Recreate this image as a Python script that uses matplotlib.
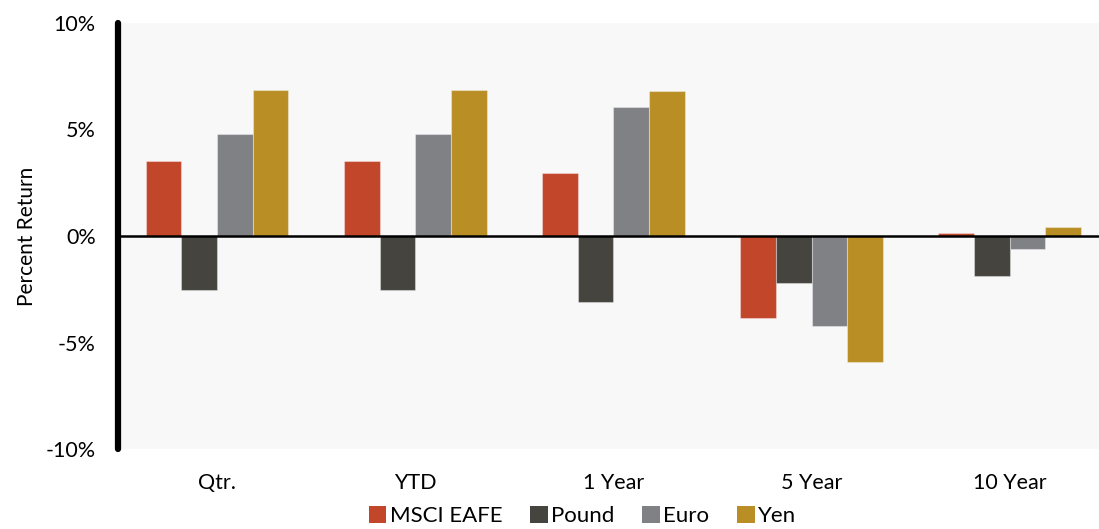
import numpy as np
import matplotlib.pyplot as plt
from matplotlib.patches import Patch

plt.rcParams['font.family'] = ['Lato', 'DejaVu Sans']

# data
periods = ['Qtr.', 'YTD', '1 Year', '5 Year', '10 Year']
msci_eafe = [3.5, 3.5, 2.95, -3.85, 0.14]
pound = [-2.55, -2.55, -3.1, -2.2, -1.9]
euro = [4.8, 4.8, 6.05, -4.22, -0.6]
yen = [6.85, 6.85, 6.8, -5.9, 0.4]
series_names = ['MSCI EAFE', 'Pound', 'Euro', 'Yen']
colors = ['#C1462A', '#45443F', '#808184', '#B88E25']
yticks = [-10, -5, 0, 5, 10]
ytick_labels = ['-10%', '-5%', '0%', '5%', '10%']

fig = plt.figure(figsize=(10.99, 5.29), dpi=100)
ax = fig.add_axes([0.1074, 0.151, 0.8926, 0.806])
ax.set_facecolor('#F8F8F8')

x = np.arange(len(periods))
width = 0.18
series = [msci_eafe, pound, euro, yen]
for i, (vals, c) in enumerate(zip(series, colors)):
    offset = (i - 1.5) * width
    ax.bar(x + offset, vals, width, color=c, edgecolor=(1, 1, 1, 0.35),
           linewidth=0.8, zorder=2)

ax.axhline(0, color='black', linewidth=1.8, zorder=3)

ax.set_xlim(-0.5, 4.45)
ax.set_ylim(-10, 10)
ax.set_yticks(yticks)
ax.set_yticklabels(ytick_labels)
ax.set_xticks(x)
ax.set_xticklabels(periods)
ax.tick_params(axis='both', length=0, labelsize=15.5)
ax.tick_params(axis='x', pad=17)
ax.tick_params(axis='y', pad=16)
ax.set_ylabel('Percent Return', fontsize=15, labelpad=6)

for s in ['top', 'right', 'bottom']:
    ax.spines[s].set_visible(False)
ax.spines['left'].set_linewidth(4.5)
ax.spines['left'].set_capstyle('round')
ax.spines['left'].set_zorder(4)

handles = [Patch(facecolor=c, edgecolor='none') for c in colors]
fig.legend(handles, series_names, loc='lower center', ncol=4, frameon=False,
           fontsize=16, handlelength=0.8, handleheight=0.8, handletextpad=0.15,
           columnspacing=1.25, bbox_to_anchor=(0.53, -0.032))

fig.savefig('out.png', dpi=100)
